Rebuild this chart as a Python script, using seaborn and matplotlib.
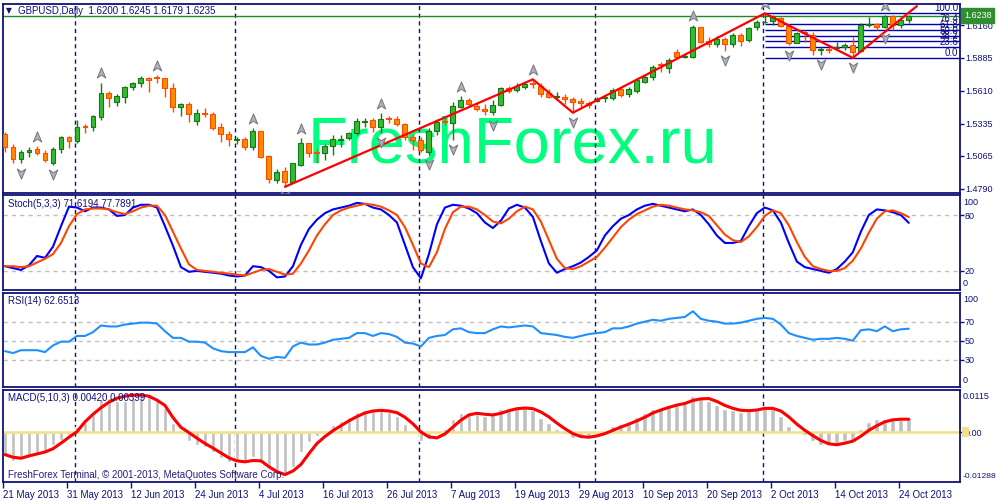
import numpy as np
import pandas as pd
import seaborn as sns
import matplotlib.pyplot as plt
from matplotlib.path import Path
from matplotlib.patches import Rectangle

sns.set_theme(style="white")
plt.rcParams['font.family'] = ['Liberation Sans', 'DejaVu Sans']

# daily bars, 21 May 2013 .. 25 Oct 2013
dates = pd.bdate_range("2013-05-21", "2013-10-25")

opens = [1.5245, 1.5136, 1.5039, 1.5094, 1.5122, 1.5086, 1.5007, 1.5119, 1.5220, 1.5191,
         1.5314, 1.5304, 1.5392, 1.5588, 1.5518, 1.5560, 1.5638, 1.5672, 1.5714, 1.5727,
         1.5714, 1.5630, 1.5471, 1.5496, 1.5359, 1.5423, 1.5412, 1.5304, 1.5245, 1.5197,
         1.5203, 1.5141, 1.5272, 1.5063, 1.4862, 1.4938, 1.4848, 1.4988, 1.5170, 1.5100,
         1.5086, 1.5147, 1.5197, 1.5211, 1.5253, 1.5345, 1.5365, 1.5304, 1.5381, 1.5371,
         1.5329, 1.5225, 1.5197, 1.5100, 1.5275, 1.5356, 1.5337, 1.5476, 1.5532, 1.5482,
         1.5454, 1.5434, 1.5488, 1.5630, 1.5616, 1.5638, 1.5672, 1.5649, 1.5588, 1.5555,
         1.5560, 1.5538, 1.5524, 1.5504, 1.5524, 1.5546, 1.5546, 1.5624, 1.5580, 1.5610,
         1.5685, 1.5722, 1.5833, 1.5797, 1.5931, 1.5889, 1.5894, 1.6141, 1.6026, 1.5998,
         1.6040, 1.5998, 1.6076, 1.6034, 1.6141, 1.6185, 1.6196, 1.6216, 1.6151, 1.6012,
         1.6099, 1.6076, 1.5951, 1.5956, 1.5965, 1.5978, 1.5992, 1.5945, 1.6160, 1.6168,
         1.6141, 1.6235, 1.6160, 1.6200]
highs = [1.5267, 1.5164, 1.5114, 1.5136, 1.5147, 1.5114, 1.5136, 1.5231, 1.5233, 1.5365,
         1.5331, 1.5404, 1.5677, 1.5607, 1.5582, 1.5649, 1.5685, 1.5733, 1.5722, 1.5741,
         1.5714, 1.5672, 1.5509, 1.5518, 1.5454, 1.5463, 1.5434, 1.5337, 1.5272, 1.5225,
         1.5220, 1.5295, 1.5272, 1.5072, 1.4952, 1.4974, 1.5007, 1.5211, 1.5175, 1.5119,
         1.5164, 1.5239, 1.5239, 1.5267, 1.5379, 1.5379, 1.5379, 1.5421, 1.5398, 1.5398,
         1.5337, 1.5247, 1.5225, 1.5295, 1.5371, 1.5379, 1.5518, 1.5566, 1.5546, 1.5504,
         1.5499, 1.5532, 1.5643, 1.5649, 1.5672, 1.5685, 1.5705, 1.5672, 1.5622, 1.5602,
         1.5582, 1.5560, 1.5546, 1.5526, 1.5555, 1.5574, 1.5630, 1.5643, 1.5643, 1.5714,
         1.5741, 1.5825, 1.5853, 1.5881, 1.5956, 1.5923, 1.6160, 1.6146, 1.6057, 1.6068,
         1.6057, 1.6090, 1.6090, 1.6146, 1.6202, 1.6258, 1.6243, 1.6229, 1.6168, 1.6104,
         1.6118, 1.6104, 1.5978, 1.5978, 1.6020, 1.6012, 1.6057, 1.6174, 1.6229, 1.6179,
         1.6243, 1.6240, 1.6216, 1.6245]
lows = [1.5100, 1.5003, 1.5003, 1.5052, 1.5072, 1.5011, 1.4988, 1.5091, 1.5128, 1.5170,
        1.5258, 1.5275, 1.5365, 1.5476, 1.5484, 1.5509, 1.5616, 1.5638, 1.5602, 1.5677,
        1.5555, 1.5434, 1.5398, 1.5350, 1.5323, 1.5387, 1.5281, 1.5183, 1.5147, 1.5164,
        1.5114, 1.5114, 1.5044, 1.4840, 1.4840, 1.4806, 1.4835, 1.4980, 1.5057, 1.5007,
        1.5030, 1.5072, 1.5141, 1.5197, 1.5239, 1.5309, 1.5267, 1.5258, 1.5342, 1.5314,
        1.5197, 1.5114, 1.5100, 1.5072, 1.5239, 1.5323, 1.5197, 1.5463, 1.5476, 1.5442,
        1.5406, 1.5406, 1.5482, 1.5588, 1.5602, 1.5622, 1.5630, 1.5560, 1.5546, 1.5532,
        1.5499, 1.5426, 1.5476, 1.5463, 1.5518, 1.5518, 1.5532, 1.5560, 1.5560, 1.5588,
        1.5672, 1.5699, 1.5769, 1.5761, 1.5881, 1.5881, 1.5881, 1.6012, 1.5978, 1.5978,
        1.5945, 1.5978, 1.5984, 1.6020, 1.6118, 1.6174, 1.6160, 1.6146, 1.5992, 1.6007,
        1.6020, 1.5909, 1.5909, 1.5923, 1.5951, 1.5951, 1.5885, 1.5936, 1.6146, 1.6118,
        1.6132, 1.6118, 1.6132, 1.6179]
closes = [1.5141, 1.5039, 1.5094, 1.5114, 1.5086, 1.5030, 1.5122, 1.5220, 1.5189, 1.5304,
          1.5304, 1.5396, 1.5588, 1.5546, 1.5566, 1.5638, 1.5672, 1.5714, 1.5699, 1.5714,
          1.5630, 1.5471, 1.5499, 1.5412, 1.5421, 1.5412, 1.5300, 1.5245, 1.5203, 1.5203,
          1.5141, 1.5272, 1.5057, 1.4868, 1.4932, 1.4848, 1.5002, 1.5170, 1.5091, 1.5086,
          1.5147, 1.5206, 1.5208, 1.5253, 1.5356, 1.5356, 1.5304, 1.5376, 1.5371, 1.5331,
          1.5225, 1.5197, 1.5114, 1.5275, 1.5348, 1.5345, 1.5482, 1.5532, 1.5496, 1.5454,
          1.5442, 1.5488, 1.5630, 1.5610, 1.5649, 1.5663, 1.5663, 1.5582, 1.5560, 1.5566,
          1.5538, 1.5515, 1.5504, 1.5490, 1.5538, 1.5557, 1.5616, 1.5574, 1.5624, 1.5699,
          1.5727, 1.5806, 1.5822, 1.5867, 1.5889, 1.5900, 1.6146, 1.6020, 1.5998, 1.6040,
          1.5998, 1.6076, 1.6028, 1.6132, 1.6187, 1.6189, 1.6224, 1.6151, 1.6007, 1.6090,
          1.6090, 1.5951, 1.5956, 1.5951, 1.5978, 1.5992, 1.5936, 1.6160, 1.6168, 1.6141,
          1.6235, 1.6160, 1.6202, 1.6235]

# red trend line (zigzag) through swing points
zz_bars = [35, 66, 71, 95, 106, 114]
zz_prices = [1.4806, 1.5705, 1.5426, 1.6258, 1.5885, 1.6318]

# fractal arrows
frac_up = [4, 12, 19, 31, 37, 47, 57, 66, 86, 95, 110]
frac_dn = [2, 6, 35, 47, 53, 56, 61, 71, 90, 98, 102, 106, 110]

# fibonacci retracement (anchors are bars 95 -> 106)
fib_start = 95
fib_low, fib_high = 1.5885, 1.6258
fib_ratios = [0.0, 23.6, 38.2, 50.0, 61.8, 76.4, 100.0]
bid_price = 1.6238
price_ticks = [1.6160, 1.5885, 1.5610, 1.5335, 1.5065, 1.4790]

stoch_k = [25, 23, 21, 26, 36, 34, 46, 68, 89, 88, 84, 88, 88, 86, 79, 80, 88, 91, 91, 88,
           68, 47, 24, 19, 20, 19, 18, 17, 15, 14, 15, 25, 24, 20, 13, 14, 25,
           48, 65, 75, 82, 86, 88, 90, 93, 92, 88, 86, 80, 72, 48, 24, 12, 38, 70, 88, 91,
           90, 87, 82, 72, 66, 74, 87, 91, 88, 78, 52, 28, 18, 22, 25, 29, 35, 42, 58, 68,
           76, 80, 86, 90, 92, 90, 88, 86, 84, 86, 80, 70, 58, 50, 50, 52, 68, 82, 88, 85,
           72, 50, 30, 24, 22, 20, 18, 22, 30, 40, 62, 80, 86, 85, 83, 80, 71.6194]
stoch_d = [25, 25, 24, 25, 29, 33, 38, 50, 68, 81, 86, 87, 87, 86, 83, 81, 84, 88, 90, 90,
           80, 62, 44, 27, 21, 20, 19, 18, 17, 16, 15, 18, 21, 22, 19, 16, 17,
           28, 42, 58, 70, 80, 85, 88, 90, 92, 91, 89, 85, 80, 67, 48, 28, 24, 40, 65, 83,
           89, 89, 86, 80, 73, 71, 76, 84, 89, 86, 73, 53, 33, 23, 22, 25, 30, 35, 45, 56,
           67, 75, 81, 85, 89, 91, 90, 88, 86, 85, 83, 79, 69, 59, 53, 51, 57, 67, 79, 85,
           82, 69, 51, 35, 25, 22, 20, 20, 23, 31, 44, 61, 76, 84, 85, 82, 77.7891]
rsi = [39, 37, 40, 40, 40, 38, 45, 49, 49, 55, 55, 59, 66, 65, 65, 67, 68, 69, 69, 68,
       60, 53, 53, 49, 49, 48, 42, 39, 38, 38, 38, 43, 34, 31, 33, 32, 44,
       48, 46, 46, 48, 51, 52, 53, 58, 58, 55, 58, 57, 54, 48, 47, 44, 53, 55, 56, 62,
       63, 59, 58, 58, 62, 65, 64, 65, 66, 65, 58, 57, 56, 54, 53, 55, 57, 58, 59, 63,
       63, 65, 68, 70, 72, 71, 73, 74, 75, 81, 73, 71, 70, 68, 68, 69, 71, 73, 74, 73,
       67, 58, 55, 53, 51, 52, 52, 53, 52, 50, 61, 62, 60, 65, 60, 62, 62.6513]
macd_hist = [-0.0069, -0.0087, -0.0082, -0.0074, -0.0066, -0.0056, -0.0039, -0.0023, -0.0008, 0.0017,
             0.0032, 0.0053, 0.0101, 0.0104, 0.0096, 0.0096, 0.0104, 0.0111, 0.0115, 0.0096,
             0.0073, 0.0029, 0.0004, -0.0026, -0.0039, -0.0044, -0.0059, -0.0079, -0.0090, -0.0087,
             -0.0090, -0.0076, -0.0095, -0.0107, -0.0120, -0.01288, -0.0107, -0.0059,
             -0.0030, -0.0012, 0.0004, 0.0022, 0.0035, 0.0048, 0.0062, 0.0067, 0.0066, 0.0068,
             0.0062, 0.0050, 0.0025, 0.0002, -0.0025, -0.0020, -0.0005, 0.0010, 0.0042, 0.0058,
             0.0060, 0.0055, 0.0050, 0.0055, 0.0070, 0.0072, 0.0075, 0.0074, 0.0068, 0.0045,
             0.0028, 0.0010, -0.0005, -0.0018, -0.0015, -0.0012, -0.0005, 0.0005, 0.0018, 0.0025,
             0.0032, 0.0048, 0.0058, 0.0070, 0.0075, 0.0083, 0.0090, 0.0092, 0.0110, 0.0105,
             0.0095, 0.0082, 0.0070, 0.0068, 0.0062, 0.0068, 0.0075, 0.0075, 0.0070, 0.0050,
             0.0020, 0.0005, -0.0008, -0.0028, -0.0038, -0.0040, -0.0035, -0.0025, -0.0022, 0.0010,
             0.0030, 0.0042, 0.0040, 0.0038, 0.0042, 0.0042]
macd_signal = [-0.0068, -0.0076, -0.0079, -0.0072, -0.0066, -0.0060, -0.0050, -0.0033, -0.0015, 0.0002,
               0.0032, 0.0055, 0.0075, 0.0092, 0.0104, 0.0110, 0.0113, 0.0114, 0.0110, 0.0098,
               0.0082, 0.0045, 0.0015, -0.0001, -0.0018, -0.0034, -0.0048, -0.0063, -0.0078, -0.0087,
               -0.0090, -0.0086, -0.0087, -0.0105, -0.0120, -0.0129, -0.0118, -0.0098,
               -0.0065, -0.0034, -0.0013, 0.0005, 0.0020, 0.0035, 0.0048, 0.0059, 0.0065, 0.0067,
               0.0065, 0.0060, 0.0046, 0.0026, 0.0001, -0.0014, -0.0017, -0.0005, 0.0016, 0.0037,
               0.0053, 0.0058, 0.0055, 0.0053, 0.0058, 0.0066, 0.0072, 0.0074, 0.0072, 0.0062,
               0.0047, 0.0028, 0.0011, -0.0004, -0.0013, -0.0015, -0.0011, -0.0004, 0.0006, 0.0016,
               0.0025, 0.0035, 0.0046, 0.0059, 0.0068, 0.0076, 0.0083, 0.0088, 0.0097, 0.0102,
               0.0103, 0.0094, 0.0082, 0.0073, 0.0067, 0.0066, 0.0068, 0.0073, 0.0073, 0.0065,
               0.0047, 0.0025, 0.0006, -0.0010, -0.0025, -0.0035, -0.0038, -0.0033, -0.0027, -0.0012,
               0.0006, 0.0020, 0.0032, 0.0038, 0.0040, 0.00399]

NAVY = '#10107a'
bars = np.arange(len(dates))

fig = plt.figure(figsize=(10, 5), dpi=100)
fig.patch.set_facecolor('white')


def box(x0, y0, x1, y1):
    # pixel rectangle -> figure fraction
    return [x0 / 1000, 1 - y1 / 500, (x1 - x0) / 1000, (y1 - y0) / 500]


ax_p = fig.add_axes(box(3, 4, 960, 192.5))
ax_s = fig.add_axes(box(3, 195, 960, 289.5))
ax_r = fig.add_axes(box(3, 292.7, 960, 387))
ax_m = fig.add_axes(box(3, 389.5, 960, 482))
axes = [ax_p, ax_s, ax_r, ax_m]

# month separators
month_start = [i for i in range(1, len(dates)) if dates[i].month != dates[i - 1].month]
for ax in axes:
    ax.set_facecolor('white')
    for s in ax.spines.values():
        s.set_color(NAVY)
        s.set_linewidth(1.3)
    for i in month_start:
        ax.axvline(i - 0.25, color=NAVY, lw=1.0, dashes=(3, 2.5), zorder=1.5)
    ax.set_xlim(-0.25, 119.4)
    ax.yaxis.tick_right()
    ax.tick_params(axis='y', direction='out', length=3, width=1, colors=NAVY,
                   labelsize=6.5, pad=0.6, right=True, left=False)
    ax.set_xlabel('')
    ax.set_ylabel('')

# ---- price panel ----
ax_p.text(0.318, 0.16, "FreshForex.ru", transform=ax_p.transAxes, fontsize=47,
          color='#00FF7F', ha='left', va='baseline', zorder=0.5,
          family=['Liberation Sans', 'DejaVu Sans'])

fib_prices = [fib_low + r / 100 * (fib_high - fib_low) for r in fib_ratios]
for r, p in zip(fib_ratios, fib_prices):
    ax_p.hlines(p, fib_start, 119.4, color='#0000b0', lw=1.0, zorder=2)
    ax_p.annotate(f"{r:.1f}", xy=(1, p), xycoords=('axes fraction', 'data'),
                  xytext=(-2, 0), textcoords='offset pixels', ha='right', va='bottom',
                  fontsize=7, color=NAVY, zorder=6)

ax_p.axhline(bid_price, color='#1f8a1f', lw=1.0, zorder=2)

o = np.array(opens); h = np.array(highs); l = np.array(lows); c = np.array(closes)
up = c >= o
edge = np.where(up, '#137a13', '#ff4a00')
fill = np.where(up, '#33bb33', '#ff8c00')
ax_p.vlines(bars, l, h, colors=edge, lw=1.0, zorder=3)
ax_p.bar(bars, np.maximum(np.abs(c - o), 0.0003), bottom=np.minimum(o, c), width=0.62,
         color=fill, edgecolor=edge, linewidth=0.8, zorder=3.5)

sns.lineplot(x=zz_bars, y=zz_prices, ax=ax_p, color='#ff0000', linewidth=1.6, zorder=4)

arrow = Path([(0, 1), (0.75, -0.8), (0, -0.3), (-0.75, -0.8), (0, 1)],
             [Path.MOVETO, Path.LINETO, Path.LINETO, Path.LINETO, Path.CLOSEPOLY])
arrow_dn = Path(arrow.vertices * [1, -1], arrow.codes)
off = 0.0079
ax_p.plot(frac_up, h[frac_up] + off, ls='none', marker=arrow, ms=8,
          mfc='#b4b4bc', mec='#7c7c84', mew=0.8, zorder=5)
ax_p.plot(frac_dn, l[frac_dn] - off, ls='none', marker=arrow_dn, ms=8,
          mfc='#b4b4bc', mec='#7c7c84', mew=0.8, zorder=5)

ax_p.set_ylim(1.4758, 1.6336)
ax_p.set_yticks(price_ticks)
ax_p.set_yticklabels([f"{t:.4f}" for t in price_ticks])
ax_p.annotate(f"{bid_price:.4f}", xy=(1, bid_price), xycoords=('axes fraction', 'data'),
              xytext=(4, 0), textcoords='offset pixels', ha='left', va='center',
              fontsize=6.5, color='white', annotation_clip=False,
              bbox=dict(boxstyle='square,pad=0.3', fc='#2f8f2f', ec='#2f8f2f'))
ax_p.annotate("\u25bc", xy=(0, 1), xycoords='axes fraction', xytext=(3, -7),
              textcoords='offset pixels', fontsize=5.5, color=NAVY, va='center',
              family=['DejaVu Sans'])
ax_p.annotate(f"GBPUSD,Daily  {opens[-1]:.4f} {highs[-1]:.4f} {lows[-1]:.4f} {closes[-1]:.4f}",
              xy=(0, 1), xycoords='axes fraction', xytext=(15, -7),
              textcoords='offset pixels', fontsize=7, color=NAVY, va='center')


def edge_labels(ax, top, bottom, dy_top, dy_bot, size_bot=6.5):
    ax.annotate(top, xy=(1, 1), xycoords='axes fraction', xytext=(3, -dy_top),
                textcoords='offset pixels', fontsize=6.5, color=NAVY, va='center',
                annotation_clip=False)
    ax.annotate(bottom, xy=(1, 0), xycoords='axes fraction', xytext=(3, dy_bot),
                textcoords='offset pixels', fontsize=size_bot, color=NAVY, va='center',
                annotation_clip=False)


# ---- stochastic ----
for lvl in (80, 20):
    ax_s.axhline(lvl, color='#c0c0c0', lw=1.0, dashes=(3, 3), zorder=1)
sns.lineplot(x=bars, y=stoch_k, ax=ax_s, color='#0000ff', linewidth=1.5, zorder=3)
sns.lineplot(x=bars, y=stoch_d, ax=ax_s, color='#ff4500', linewidth=1.5, zorder=3)
ax_s.set_ylim(0, 101.5)
ax_s.set_yticks([80, 20])
edge_labels(ax_s, '100', '0', 7.5, 6.5)
ax_s.annotate(f"Stoch(5,3,3) {stoch_k[-1]:.4f} {stoch_d[-1]:.4f}", xy=(0, 1),
              xycoords='axes fraction', xytext=(5, -9), textcoords='offset pixels',
              fontsize=7, color=NAVY, va='center')

# ---- RSI ----
for lvl in (70, 50, 30):
    ax_r.axhline(lvl, color='#c0c0c0', lw=1.0, dashes=(3, 3), zorder=1)
sns.lineplot(x=bars, y=rsi, ax=ax_r, color='#1e90ff', linewidth=1.5, zorder=3)
ax_r.set_ylim(1.3, 100.5)
ax_r.set_yticks([70, 50, 30])
edge_labels(ax_r, '100', '0', 6.6, 6.3)
ax_r.annotate(f"RSI(14) {rsi[-1]:.4f}", xy=(0, 1), xycoords='axes fraction',
              xytext=(5, -8.5), textcoords='offset pixels', fontsize=7, color=NAVY,
              va='center')

# ---- MACD ----
ax_m.bar(bars, macd_hist, width=0.6, color='#c0c0c0', zorder=2)
ax_m.axhline(0, color='#f0e08c', lw=1.8, zorder=2.5)
sns.lineplot(x=bars, y=macd_signal, ax=ax_m, color='#ff0000', linewidth=2.2, zorder=3)
ax_m.set_ylim(-0.01515, 0.01305)
ax_m.set_yticks([0])
ax_m.set_yticklabels(['0.00'])
edge_labels(ax_m, f"{max(macd_hist):.4f}", f"{min(macd_hist):.5f}", 7.2, 6, size_bot=6.1)
fig.patches.append(Rectangle((962 / 1000, 1 - 437 / 500), 7 / 1000, 10 / 500,
                             transform=fig.transFigure, fc='#f0e08c', ec='none', zorder=0))
ax_m.annotate(f"MACD(5,10,3) {macd_hist[-1]:.5f} {macd_signal[-1]:.5f}", xy=(0, 1),
              xycoords='axes fraction', xytext=(5, -8.5), textcoords='offset pixels',
              fontsize=7, color=NAVY, va='center')
ax_m.annotate("FreshForex Terminal, \u00a9 2001-2013, MetaQuotes Software Corp.", xy=(0, 0),
              xycoords='axes fraction', xytext=(5, 7), textcoords='offset pixels',
              fontsize=7, color='#2a1a80', va='center')

for ax in axes[:3]:
    ax.set_xticks([])
tick_bars = bars[::8][:15]
ax_m.set_xticks(tick_bars - 0.2)
ax_m.set_xticklabels([f"{d.day} {d:%b %Y}" for d in dates[tick_bars]], ha='left')
ax_m.tick_params(axis='x', direction='out', length=4, width=1, colors=NAVY,
                 labelsize=7, pad=1.5, bottom=True)

fig.savefig("out.png", dpi=100, facecolor='white')
